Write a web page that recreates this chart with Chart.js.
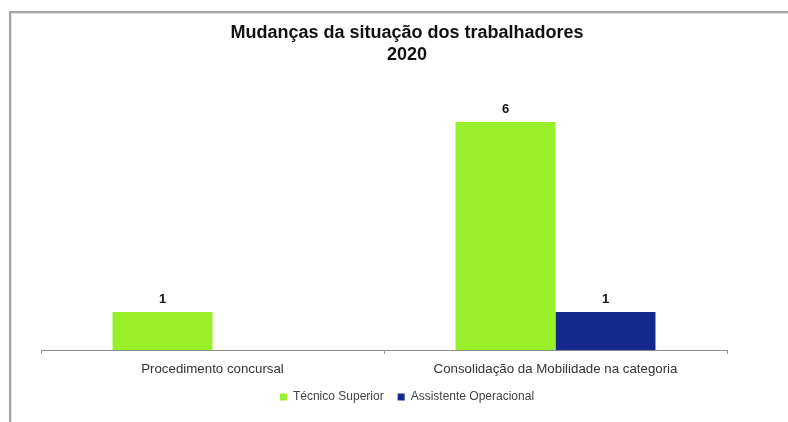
<!DOCTYPE html>
<html lang="pt">
<head>
<meta charset="utf-8">
<title>Mudanças da situação dos trabalhadores 2020</title>
<script src="https://cdn.jsdelivr.net/npm/chart.js@4.4.1/dist/chart.umd.min.js"></script>
<style>
  html, body { margin: 0; padding: 0; background: #fff; }
  #wrap { position: relative; width: 788px; height: 422px; }
</style>
</head>
<body>
<div id="wrap"><canvas id="chart" width="788" height="422"></canvas></div>
<script>
const categories = ["Procedimento concursal", "Consolidação da Mobilidade na categoria"];
const tecnicoSuperior = [1, 6];
const assistenteOperacional = [null, 1];
const titleLines = ["Mudanças da situação dos trabalhadores", "2020"];

const FONT = "'Liberation Sans', Arial, sans-serif";

// white sheet with the grey frame on the top and left edges
const frame = {
  id: "frame",
  beforeDraw(chart) {
    const ctx = chart.ctx;
    ctx.save();
    ctx.fillStyle = "#fff";
    ctx.fillRect(0, 0, chart.width, chart.height);
    ctx.fillStyle = "#a3a3a3";
    ctx.fillRect(9, 11, chart.width - 9, 2);
    ctx.fillRect(9, 11, 2, chart.height - 11);
    ctx.fillStyle = "#e2e2e2";
    ctx.fillRect(11, 13, chart.width - 11, 1);
    ctx.fillRect(11, 13, 1, chart.height - 13);
    ctx.restore();
  }
};

// value printed above each bar
const barValues = {
  id: "barValues",
  afterDatasetsDraw(chart) {
    const ctx = chart.ctx;
    ctx.save();
    ctx.font = "bold 13px " + FONT;
    ctx.fillStyle = "#111";
    ctx.textAlign = "center";
    ctx.textBaseline = "alphabetic";
    chart.data.datasets.forEach((ds, i) => {
      chart.getDatasetMeta(i).data.forEach((bar, j) => {
        const v = ds.data[j];
        if (v == null) return;
        ctx.fillText(String(v), bar.x, bar.y - 9);
      });
    });
    ctx.restore();
  }
};

new Chart(document.getElementById("chart").getContext("2d"), {
  type: "bar",
  data: {
    labels: categories,
    datasets: [
      {
        label: "Técnico Superior",
        data: tecnicoSuperior,
        backgroundColor: "#99f02a",
        borderWidth: 0,
      },
      {
        label: "Assistente Operacional",
        data: assistenteOperacional,
        backgroundColor: "#15298c",
        borderWidth: 0,
      },
    ],
  },
  options: {
    responsive: false,
    animation: false,
    devicePixelRatio: 1,
    layout: { padding: { left: 41, right: 15, top: 12, bottom: 9 } },
    datasets: { bar: { barPercentage: 1, categoryPercentage: 0.583 } },
    plugins: {
      title: {
        display: true,
        text: titleLines,
        color: "#111",
        font: { family: FONT, size: 18, weight: "bold", lineHeight: 1.17 },
        padding: { top: 11, bottom: 19 },
      },
      legend: {
        position: "bottom",
        labels: {
          boxWidth: 7,
          boxHeight: 7,
          padding: 14,
          color: "#444",
          font: { family: FONT, size: 12 },
        },
      },
      tooltip: { enabled: false },
    },
    scales: {
      x: {
        grid: {
          display: true,
          drawOnChartArea: false,
          drawTicks: true,
          tickLength: 4,
          color: "#9a9a9a",
        },
        border: { display: true, color: "#8c8c8c", width: 1 },
        ticks: {
          padding: 7,
          color: "#333",
          font: { family: FONT, size: 13.3 },
        },
        // tighter band so the legend sits just under the labels
        afterFit(scale) {
          scale.height = 27;
        },
      },
      y: {
        position: "right",
        min: 0,
        max: 7,
        grid: { display: false },
        border: { display: false },
        ticks: { display: false },
        // keeps the plot clear of the right edge
        afterFit(scale) {
          scale.width = 46;
        },
      },
    },
  },
  plugins: [frame, barValues],
});
</script>
</body>
</html>
